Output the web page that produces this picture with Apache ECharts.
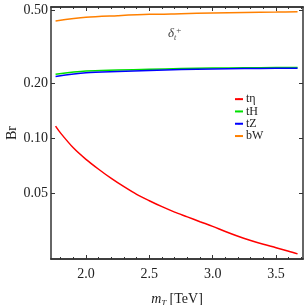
<!DOCTYPE html>
<html><head><meta charset="utf-8">
<script src="https://cdn.jsdelivr.net/npm/echarts@6/dist/echarts.min.js"></script>
<style>html,body{margin:0;padding:0;background:#fff}#c{width:305px;height:305px}</style>
</head><body><div id="c"></div>
<script>
// Data
const mT_teta = [1.76, 1.80, 1.90, 2.00, 2.10, 2.20, 2.30, 2.40, 2.50, 2.60, 2.70, 2.80, 2.90, 3.00, 3.10, 3.20, 3.30, 3.40, 3.50, 3.60, 3.67];
const br_teta = [0.1168, 0.1070, 0.0890, 0.0770, 0.0680, 0.0606, 0.0546, 0.0496, 0.0458, 0.0425, 0.0397, 0.0374, 0.0352, 0.0332, 0.0311, 0.0293, 0.0278, 0.0265, 0.0254, 0.0243, 0.0235];
const mT_bW = [1.76, 2.00, 2.25, 2.50, 2.75, 3.00, 3.25, 3.50, 3.67];
const br_bW = [0.437, 0.4575, 0.467, 0.475, 0.479, 0.483, 0.4865, 0.489, 0.491];
const mT_tH = [1.76, 2.00, 2.25, 2.50, 2.75, 3.00, 3.25, 3.50, 3.67];
const br_tH = [0.224, 0.2330, 0.2360, 0.2385, 0.2405, 0.2420, 0.2430, 0.2436, 0.2438];
const mT_tZ = [1.76, 2.00, 2.25, 2.50, 2.75, 3.00, 3.25, 3.50, 3.67];
const br_tZ = [0.218, 0.2280, 0.2320, 0.2350, 0.2375, 0.2392, 0.2404, 0.2412, 0.2416];
const seriesNames = ['tη', 'tH', 'tZ', 'bW'];
const xMajorTicks = [2.0, 2.5, 3.0, 3.5];
const xMinorTicks = [1.8, 1.9, 2.1, 2.2, 2.3, 2.4, 2.6, 2.7, 2.8, 2.9, 3.1, 3.2, 3.3, 3.4, 3.6, 3.7];
const yTicks = [0.05, 0.10, 0.20, 0.50];
const xRange = [1.724, 3.713];
const yRange = [0.02204, 0.521];

const L = Math.log10;
const pts = (xs, ys) => xs.map((x, i) => [x, L(ys[i])]);
const serif = 'Liberation Serif';
const frameColor = '#333';

const xBase = (pos, ticks, len, showLabel) => ({
  type: 'value', position: pos, min: xRange[0], max: xRange[1],
  axisLine: {show: true, onZero: false, lineStyle: {color: frameColor, width: 1.5}},
  axisTick: {show: true, inside: true, length: len, customValues: ticks, lineStyle: {color: frameColor, width: 1}},
  axisLabel: showLabel ? {show: true, customValues: xMajorTicks, fontFamily: serif, fontSize: 14, color: '#222', margin: 8,
    formatter: v => v.toFixed(1)} : {show: false},
  splitLine: {show: false}
});
const yBase = (pos, showLabel) => ({
  type: 'value', position: pos, min: L(yRange[0]), max: L(yRange[1]),
  axisLine: {show: true, onZero: false, lineStyle: {color: frameColor, width: 1.5}},
  axisTick: {show: true, inside: true, length: 4, customValues: yTicks.map(L), lineStyle: {color: frameColor, width: 1}},
  axisLabel: showLabel ? {show: true, customValues: yTicks.map(L), fontFamily: serif, fontSize: 14, color: '#222', margin: 3,
    formatter: v => Math.pow(10, v).toFixed(2)} : {show: false},
  splitLine: {show: false}
});

const xAxes = [
  Object.assign(xBase('bottom', xMajorTicks, 4, true), {
    name: '{i|m}{s|T} {r|[TeV]}', nameLocation: 'middle', nameGap: 32, nameMoveOverlap: false,
    nameTextStyle: {rich: {
      i: {fontFamily: serif, fontSize: 14, fontStyle: 'italic', color: '#222'},
      s: {fontFamily: serif, fontSize: 9, fontStyle: 'italic', color: '#222', padding: [8, 0, 0, 0]},
      r: {fontFamily: serif, fontSize: 14, color: '#222'}
    }}
  }),
  xBase('bottom', xMinorTicks, 2, false),
  xBase('top', xMajorTicks, 4, false),
  xBase('top', xMinorTicks, 2, false)
];
const yAxes = [
  Object.assign(yBase('left', true), {
    name: 'Br', nameLocation: 'middle', nameGap: 32, nameRotate: 90, nameMoveOverlap: false,
    nameTextStyle: {fontFamily: serif, fontSize: 14, color: '#222'}
  }),
  yBase('right', false)
];

const mk = (name, xs, ys, color) => ({
  name, type: 'line', data: pts(xs, ys), smooth: 0.3, symbol: 'none',
  xAxisIndex: 0, yAxisIndex: 0,
  lineStyle: {color, width: 1.5}, itemStyle: {color}
});

const chart = echarts.init(document.getElementById('c'), null, {renderer: 'canvas'});
chart.setOption({
  animation: false,
  backgroundColor: '#fff',
  grid: {left: 51, right: 2, top: 7, bottom: 46, containLabel: false, outerBoundsMode: 'none'},
  xAxis: xAxes,
  yAxis: yAxes,
  legend: {
    orient: 'vertical', left: 229, top: 88, itemWidth: 8, itemHeight: 2, itemGap: 0,
    data: seriesNames,
    textStyle: {fontFamily: serif, fontSize: 12, color: '#222', lineHeight: 12.3, padding: [0, 0, 0, -2]}
  },
  graphic: [{
    type: 'text', left: 168, top: 26,
    style: {
      text: '{d|δ}{t|t}{p|+}',
      rich: {
        d: {fontFamily: serif, fontSize: 13, fontStyle: 'italic', fill: '#444'},
        t: {fontFamily: serif, fontSize: 8, fontStyle: 'italic', fill: '#444', padding: [7, 0, 0, 0]},
        p: {fontFamily: serif, fontSize: 9, fill: '#444', padding: [0, 0, 7, 0]}
      }
    }
  }],
  series: [
    mk(seriesNames[0], mT_teta, br_teta, '#ff0000'),
    mk(seriesNames[1], mT_tH, br_tH, '#00e000'),
    mk(seriesNames[2], mT_tZ, br_tZ, '#0000ff'),
    mk(seriesNames[3], mT_bW, br_bW, '#ff8000')
  ]
});
</script>
</body></html>
